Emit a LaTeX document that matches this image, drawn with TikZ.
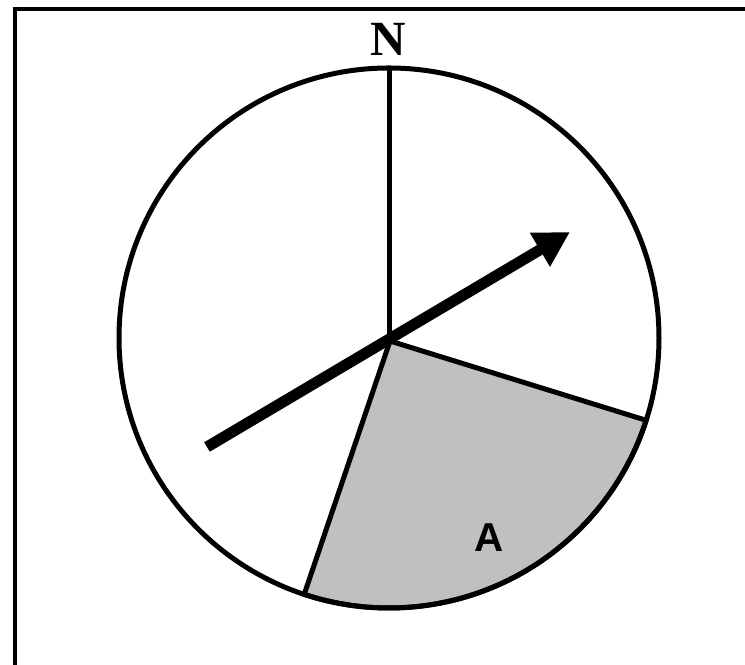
\documentclass[tikz,border=0pt]{standalone}
\usepackage{fontspec}
\setmainfont{Liberation Serif}
\newfontfamily\labelsans{Liberation Sans}
\usetikzlibrary{arrows.meta,positioning}
\definecolor{sectorgray}{RGB}{192,192,192}

\begin{document}
\begin{tikzpicture}[x=0.02cm, y=0.02cm,
    rim/.style={line width=0.1cm, black},
    pointer/.style={line width=0.22cm, black, -{Triangle[length=0.7cm, width=0.74cm]}}]
    \useasboundingbox (0, 0) rectangle (745, 665);
    % frame, only its left and top sides show
    \draw[line width=0.08cm] (14.7, -10) -- (14.7, 655.7) -- (755, 655.7);
    % centre of the dial and the points on its rim
    \coordinate (c) at (389, 327);
    \coordinate (v) at (390, 324);
    \coordinate (top) at ([shift={(90:270)}]c);
    \coordinate (s1) at ([shift={(-108.3:270)}]c);
    \coordinate (s2) at ([shift={(-17.75:270)}]c);
    % shaded sector A
    \filldraw[rim, fill=sectorgray] (v) -- (s1) arc[start angle=-108.3, end angle=-17.75, radius=270] -- cycle;
    % the dial
    \draw[rim] (c) circle (270);
    \draw[rim] (c) -- (top);
    % direction arrow through the centre
    \coordinate (tail) at (207, 218);
    \coordinate (head) at (570, 433);
    \draw[pointer] (tail) -- (head);
    % labels
    \node[font=\fontsize{28}{28}\selectfont\bfseries] (north) at (388, 626) {N};
    \node[font=\labelsans\fontsize{23}{23}\selectfont\bfseries] (areaA) at (489, 127) {A};
\end{tikzpicture}
\end{document}
